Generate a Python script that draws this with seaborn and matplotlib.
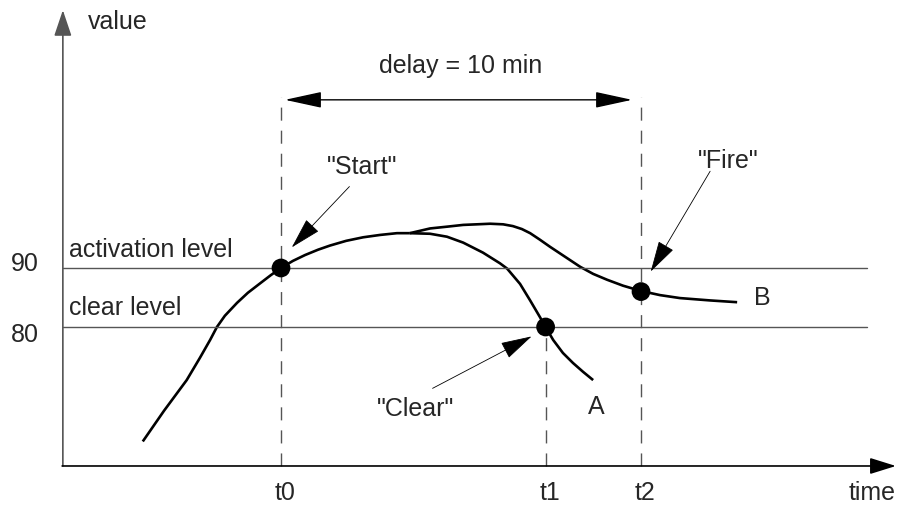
import numpy as np
import pandas as pd
import matplotlib
matplotlib.use("Agg")
import matplotlib.pyplot as plt
import seaborn as sns

# levels and event times (minutes, t0 = 0)
activation_level = 90
clear_level = 80
event_names = ["t0", "t1", "t2"]
event_times = [0.0, 7.35, 10.0]
delay_min = 10

# common rising part of the signal
rise_time = [-3.84, -3.25, -2.62, -2.25, -1.97, -1.78, -1.56, -1.22, -0.92, -0.58,
             -0.28, 0.0, 0.33, 0.67, 1.03, 1.36, 1.81, 2.28, 2.75, 3.22, 3.58]
rise_value = [60.6, 65.8, 71.0, 74.8, 77.8, 80.0, 81.9, 84.1, 85.8, 87.4,
              88.8, 90.0, 91.2, 92.2, 93.1, 93.8, 94.6, 95.2, 95.6, 95.9, 95.9]

# branch A (drops below clear level)
a_time = [3.58, 4.14, 4.61, 5.06, 5.61, 6.08, 6.28, 6.64, 6.92, 7.19, 7.35,
          7.56, 7.83, 8.11, 8.39, 8.67]
a_value = [95.9, 95.8, 95.3, 94.3, 92.6, 90.8, 89.9, 87.3, 84.5, 81.7, 80.0,
           77.8, 75.6, 73.9, 72.4, 71.0]

# branch B (stays above clear level)
b_time = [3.58, 4.14, 4.61, 5.06, 5.44, 5.81, 6.17, 6.44, 6.69, 6.92, 7.19, 7.47,
          7.89, 8.31, 8.67, 9.06, 9.50, 10.0, 10.53, 11.08, 11.92, 12.67]
b_value = [95.9, 96.7, 97.0, 97.3, 97.4, 97.5, 97.4, 97.1, 96.6, 95.9, 94.8, 93.6,
           91.9, 90.2, 89.0, 88.0, 87.0, 86.1, 85.4, 84.9, 84.5, 84.2]

# marked points
dot_names = ['"Start"', '"Clear"', '"Fire"']
dot_time = [0.0, 7.35, 10.0]
dot_value = [90.0, 80.0, 86.0]

sns.set_theme(style="white")
plt.rcParams["font.family"] = ["Liberation Sans", "DejaVu Sans"]
FS = 18

fig = plt.figure(figsize=(9, 5.09), dpi=100)
ax = fig.add_axes([0, 0, 1, 1])

t_org, v_org = -6.06, 56.44
t_end, v_top = 17.08, 133.7

# curves
rise = pd.DataFrame({"time": rise_time, "value": rise_value})
a = pd.DataFrame({"time": a_time, "value": a_value})
b = pd.DataFrame({"time": b_time, "value": b_value})
for df in (rise, a, b):
    sns.lineplot(data=df, x="time", y="value", ax=ax, color="black", lw=1.9,
                 estimator=None, sort=False, legend=False,
                 solid_joinstyle="round", solid_capstyle="butt")

dots = pd.DataFrame({"time": dot_time, "value": dot_value, "name": dot_names})
sns.scatterplot(data=dots, x="time", y="value", ax=ax, color="black",
                s=13.5 ** 2, edgecolor="none", legend=False, zorder=5)

ax.set_xlim(-7.806, 17.194)
ax.set_ylim(49.15, 135.42)
ax.set_axis_off()

# axes with arrows
ax.annotate("", xy=(t_org, v_top), xytext=(t_org, v_org),
            arrowprops=dict(arrowstyle="-|>,head_length=16,head_width=5.4",
                            mutation_scale=1, color="#555555", lw=1.2,
                            shrinkA=0, shrinkB=0))
ax.annotate("", xy=(t_end, v_org), xytext=(t_org - 0.02, v_org),
            arrowprops=dict(arrowstyle="-|>,head_length=16,head_width=5",
                            mutation_scale=1, color="black", lw=1.2,
                            shrinkA=0, shrinkB=0))

# level lines
for lvl, name, ty in [(activation_level, "activation level", 93.05),
                      (clear_level, "clear level", 83.2)]:
    ax.plot([t_org, 16.28], [lvl, lvl], color="#555555", lw=1.0)
    ax.text(-5.9, ty, name, fontsize=FS, ha="left", va="center")
ax.text(-7.11, 90.6, str(activation_level), fontsize=FS, ha="center", va="center")
ax.text(-7.11, 78.6, str(clear_level), fontsize=FS, ha="center", va="center")

# dashed event lines
dash = (0, (9.4, 7.2))
tops = [119.0, 78.5, 119.0]
for name, t, top in zip(event_names, event_times, tops):
    ax.plot([t, t], [v_org, top], color="#555555", lw=1.0, linestyle=dash)
    ax.text(t + 0.11, 51.8, name, fontsize=FS, ha="center", va="center")
ax.text(15.78, 51.8, "time", fontsize=FS, ha="left", va="center")
ax.text(-5.36, 131.7, "value", fontsize=FS, ha="left", va="center")

# delay arrow
ax.annotate("", xy=(event_times[0] + 0.11, 118.5), xytext=(9.75, 118.5),
            arrowprops=dict(arrowstyle="<|-|>,head_length=23,head_width=5",
                            mutation_scale=1, color="black", lw=1.0,
                            shrinkA=0, shrinkB=0))
ax.text(5.0, 124.2, f"delay = {delay_min} min", fontsize=FS, ha="center", va="center")

ax.text(8.75, 66.4, "A", fontsize=FS, ha="center", va="center")
ax.text(13.36, 84.9, "B", fontsize=FS, ha="center", va="center")

# callouts
head = "-|>,head_length=20,head_width=5.5"
callouts = [
    ('"Start"', (0.30, 93.5), (1.90, 103.8), (1.28, 107.1), "left"),
    ('"Fire"', (10.27, 89.4), (11.92, 106.4), (11.58, 108.1), "left"),
    ('"Clear"', (6.96, 78.4), (4.21, 69.6), (3.75, 66.1), "center"),
]
for label, tip, tail, pos, ha in callouts:
    ax.annotate("", xy=tip, xytext=tail,
                arrowprops=dict(arrowstyle=head, mutation_scale=1, color="black",
                                lw=0.6, shrinkA=0, shrinkB=0))
    ax.text(pos[0], pos[1], label, fontsize=FS, ha=ha, va="center")

fig.savefig("out.png", dpi=100)
